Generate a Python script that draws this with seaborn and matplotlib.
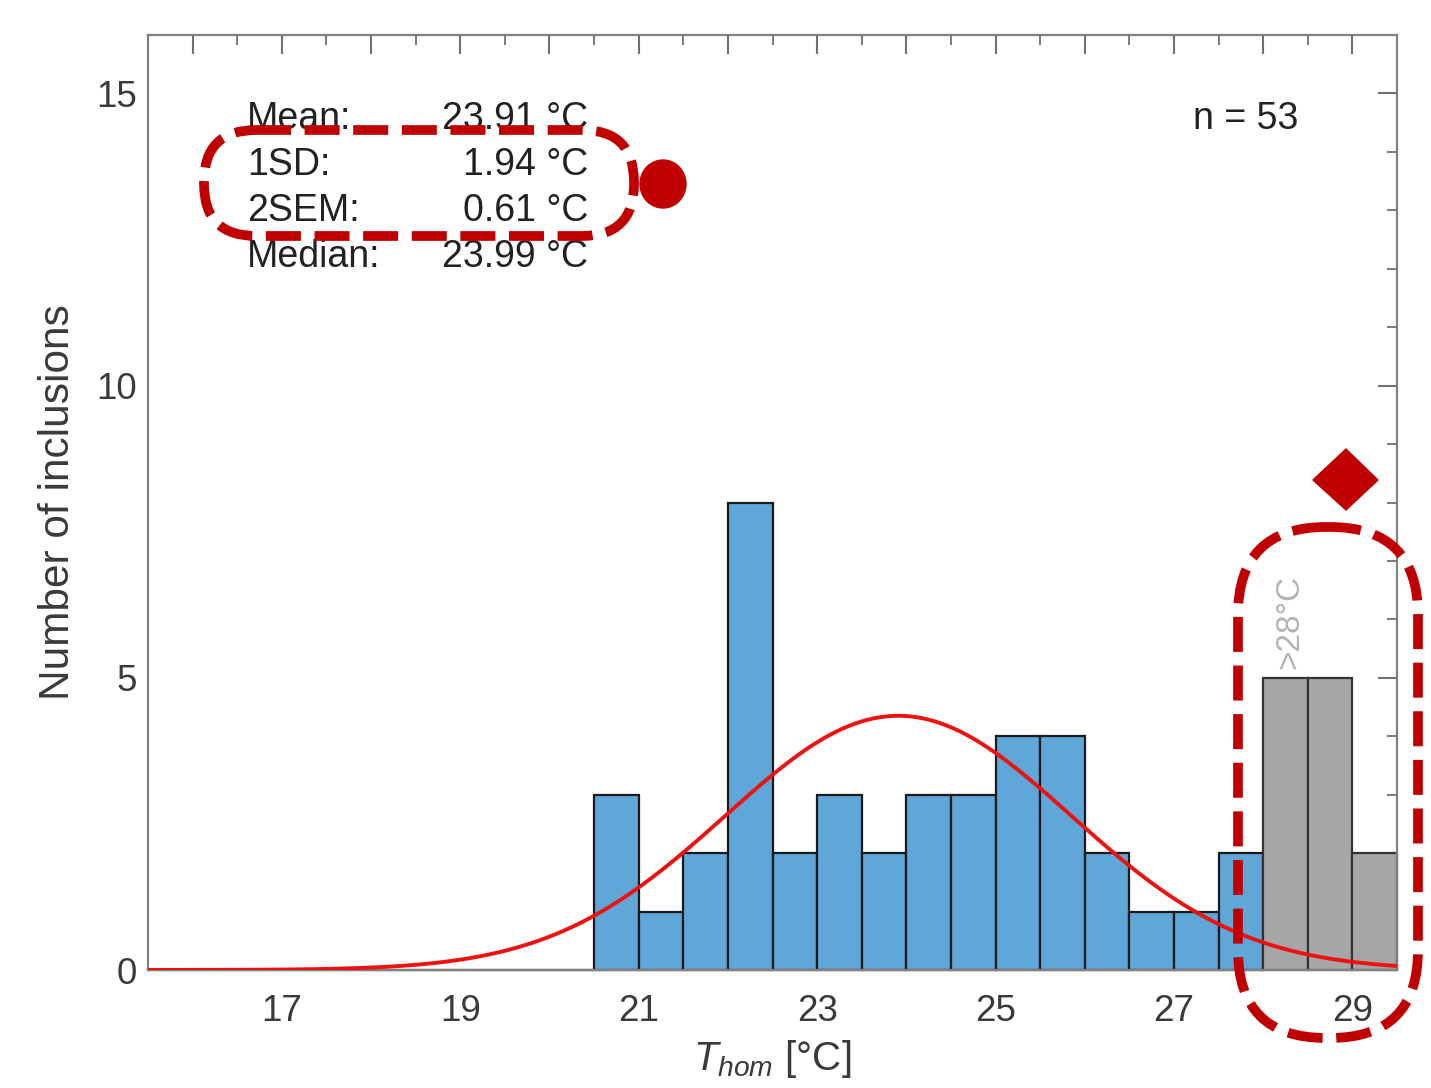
import numpy as np
import pandas as pd
import matplotlib
matplotlib.use("Agg")
import matplotlib.pyplot as plt
from matplotlib.patches import FancyBboxPatch, Ellipse, Polygon
from matplotlib.ticker import MultipleLocator, FixedLocator, FuncFormatter
import seaborn as sns

# ---------------- data ----------------
bin_width = 0.5
blue_start = 15.5
blue_counts = [0, 0, 0, 0, 0, 0, 0, 0, 0, 0,
               3, 1, 2, 8, 2, 3, 2, 3, 3, 4, 4, 2, 1, 1, 2]
gray_start = 28.0
gray_counts = [5, 5, 2]
mean_t = 23.91
sd_t = 1.94
sem2_t = 0.61
median_t = 23.99
n_total = 53
curve_peak = 4.35
stat_labels = ["Mean:", "1SD:", "2SEM:", "Median:"]
stat_values = [f"{mean_t:.2f} °C", f"{sd_t:.2f} °C", f"{sem2_t:.2f} °C", f"{median_t:.2f} °C"]
x_ticklabels = [17, 19, 21, 23, 25, 27, 29]
y_ticklabels = [0, 5, 10, 15]

# ---------------- style ----------------
sns.set_theme(style="white")
plt.rcParams["font.family"] = ["Liberation Sans", "DejaVu Sans"]
plt.rcParams["mathtext.fontset"] = "custom"
plt.rcParams["mathtext.it"] = "Liberation Sans:italic"
plt.rcParams["mathtext.rm"] = "Liberation Sans"

W, H = 1431, 1088
fig = plt.figure(figsize=(W / 100, H / 100), dpi=100)
fig.patch.set_facecolor("white")
L, R, T, B = 148, 1397, 35, 970
ax = fig.add_axes([L / W, 1 - B / H, (R - L) / W, (B - T) / H])

blue_centers = blue_start + bin_width * (np.arange(len(blue_counts)) + 0.5)
gray_centers = gray_start + bin_width * (np.arange(len(gray_counts)) + 0.5)
blue_df = pd.DataFrame({"t": blue_centers, "w": blue_counts})
gray_df = pd.DataFrame({"t": gray_centers, "w": gray_counts})

sns.histplot(data=blue_df, x="t", weights="w", binwidth=bin_width,
             binrange=(blue_start, blue_start + bin_width * len(blue_counts)),
             color="#5fa6d9", edgecolor="#1a1a1a", linewidth=1.6, alpha=1, ax=ax,
             clip_on=False)
sns.histplot(data=gray_df, x="t", weights="w", binwidth=bin_width,
             binrange=(gray_start, gray_start + bin_width * len(gray_counts)),
             color="#a6a6a6", edgecolor="#333333", linewidth=1.6, alpha=1, ax=ax,
             clip_on=False)

xs = np.linspace(15.5, 29.5, 400)
ys = curve_peak * np.exp(-0.5 * ((xs - mean_t) / sd_t) ** 2)
curve_df = pd.DataFrame({"x": xs, "y": ys})
sns.lineplot(data=curve_df, x="x", y="y", color="#ee1111", linewidth=2.8, ax=ax, zorder=5)

ax.set_xlim(15.5, 29.5)
ax.set_ylim(0, 16)

ax.xaxis.set_major_locator(MultipleLocator(1))
ax.xaxis.set_minor_locator(MultipleLocator(0.5))
ax.xaxis.set_major_formatter(FuncFormatter(
    lambda v, p: f"{int(round(v))}" if int(round(v)) in x_ticklabels else ""))
ax.yaxis.set_major_locator(FixedLocator(y_ticklabels))
ax.yaxis.set_minor_locator(MultipleLocator(1))

for s in ax.spines.values():
    s.set_color("#808080")
    s.set_linewidth(1.6)
ax.tick_params(which="both", direction="in", top=True, right=True, color="#707070",
               labelcolor="#3a3a3a", labelsize=26.5)
ax.tick_params(which="major", length=14, width=1.5)
ax.tick_params(which="minor", length=7, width=1.3)
ax.tick_params(axis="x", which="major", pad=17)
ax.tick_params(axis="y", which="major", pad=8)

ax.set_ylabel("Number of inclusions", fontsize=30.5, color="#3a3a3a", labelpad=13)
ax.set_xlabel(r"$T_{hom}$ [°C]", fontsize=29, color="#3a3a3a", labelpad=7)

row_y = [119, 165, 211, 257]
for lab, val, yp in zip(stat_labels, stat_values, row_y):
    ya = 1 - (yp - T) / (B - T)
    ax.text((247 - L) / (R - L), ya, lab, transform=ax.transAxes, ha="left", va="center",
            fontsize=27, color="#222222")
    ax.text((588 - L) / (R - L), ya, val, transform=ax.transAxes, ha="right", va="center",
            fontsize=27, color="#222222")
ax.text((1298 - L) / (R - L), 1 - (119 - T) / (B - T), f"n = {n_total}", transform=ax.transAxes,
        ha="right", va="center", fontsize=27, color="#222222")
ax.text(gray_start + 0.3, 5.15, ">28°C", rotation=90, ha="center", va="bottom",
        fontsize=24, color="#b4b4b4")

# ---------------- red annotations (overlay in pixel coordinates) ----------------
ov = fig.add_axes([0, 0, 1, 1], zorder=10)
ov.set_xlim(0, W)
ov.set_ylim(H, 0)
ov.axis("off")
ov.patch.set_alpha(0)
red = "#c00000"
dash = (0, (3.6, 1.4))
ov.add_patch(FancyBboxPatch((204, 130), 430, 106, boxstyle="round,pad=0,rounding_size=52",
                            fill=False, edgecolor=red, linewidth=7, linestyle=dash))
ov.add_patch(FancyBboxPatch((1238, 527), 180, 511, boxstyle="round,pad=0,rounding_size=88",
                            fill=False, edgecolor=red, linewidth=7, linestyle=dash))
ov.add_patch(Ellipse((663, 184), 46, 48, color=red))
ov.add_patch(Polygon([[1346, 449], [1378, 480], [1346, 510], [1313, 480]], closed=True, color=red))

fig.savefig("out.png", dpi=100)
